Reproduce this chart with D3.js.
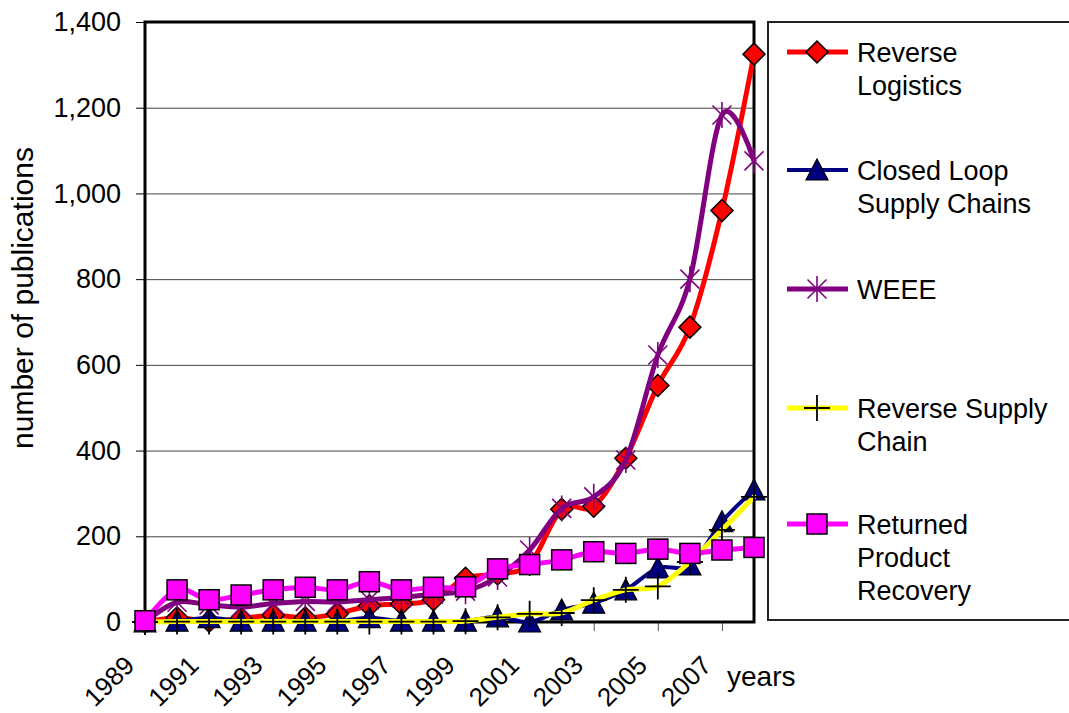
<!DOCTYPE html>
<html>
<head>
<meta charset="utf-8">
<script src="https://cdn.jsdelivr.net/npm/d3@7"></script>
<style>
  html, body { margin: 0; padding: 0; background: #fff; }
  svg { display: block; font-family: "Liberation Sans", Arial, sans-serif; }
</style>
</head>
<body>
<svg id="chart" width="1069" height="713"></svg>
<script>
// Publications per year, 1989-2008
const years = ["1989","1990","1991","1992","1993","1994","1995","1996","1997","1998",
               "1999","2000","2001","2002","2003","2004","2005","2006","2007","2008"];
const labelYears = ["1989","1991","1993","1995","1997","1999","2001","2003","2005","2007"];
const yTicks = [0, 200, 400, 600, 800, 1000, 1200, 1400];

const reverseLogistics   = [0, 10, 2, 8, 16, 10, 19, 38, 42, 52, 102, 112, 135, 263, 270, 382, 552, 688, 960, 1325];
const closedLoop         = [0, 2, 10, 2, 2, 2, 2, 10, 2, 2, 2, 12, 0, 28, 44, 75, 126, 133, 234, 308];
const weee               = [0, 46, 40, 35, 43, 48, 47, 52, 57, 65, 72, 105, 168, 265, 292, 378, 623, 800, 1183, 1076];
const reverseSupplyChain = [0, 1, 1, 1, 1, 1, 1, 1, 1, 1, 2, 11, 19, 21, 51, 75, 83, 140, 215, 292];
const returnedProduct    = [3, 75, 52, 63, 75, 81, 75, 94, 75, 81, 82, 124, 134, 145, 164, 160, 170, 160, 168, 174];

const seriesNames = [["Reverse", "Logistics"], ["Closed Loop", "Supply Chains"], ["WEEE"],
                     ["Reverse Supply", "Chain"], ["Returned", "Product", "Recovery"]];

const series = [
  { values: reverseLogistics,   line: "#ff0000", width: 5, marker: "diamond" },
  { values: closedLoop,         line: "#000080", width: 4, marker: "triangle" },
  { values: weee,               line: "#800080", width: 5, marker: "asterisk" },
  { values: reverseSupplyChain, line: "#ffff00", width: 5, marker: "plus" },
  { values: returnedProduct,    line: "#ff00ff", width: 5, marker: "square" }
];

const svg = d3.select("#chart");
const plot = { left: 145, right: 754, top: 22, bottom: 622 };

const x = d3.scalePoint().domain(years).range([plot.left, plot.right]);
const y = d3.scaleLinear().domain([0, 1400]).range([plot.bottom, plot.top]);

// horizontal gridlines
svg.append("g").selectAll("line").data(yTicks.filter(d => d > 0)).join("line")
  .attr("x1", plot.left).attr("x2", plot.right)
  .attr("y1", d => y(d) + 0.5).attr("y2", d => y(d) + 0.5)
  .attr("stroke", "#444").attr("stroke-width", 1);

// y axis
const yAxis = svg.append("g").attr("transform", `translate(${plot.left},0)`)
  .call(d3.axisLeft(y).tickValues(yTicks).tickFormat(d3.format(",")).tickSize(9).tickPadding(15));
yAxis.select(".domain").remove();
yAxis.selectAll(".tick line").attr("stroke", "#000").attr("stroke-width", 1);
yAxis.selectAll(".tick text").attr("font-size", 27).attr("fill", "#000")
  .attr("font-family", "Liberation Sans, Arial, sans-serif");

// x axis ticks
const xAxis = svg.append("g").attr("transform", `translate(0,${plot.bottom})`)
  .call(d3.axisBottom(x).tickValues(labelYears).tickSize(9).tickFormat(""));
xAxis.select(".domain").remove();
xAxis.selectAll(".tick line").attr("stroke", "#555").attr("stroke-width", 1);

// rotated year labels
svg.append("g").selectAll("text").data(labelYears).join("text")
  .attr("transform", d => `translate(${x(d) - 9},667) rotate(-45)`)
  .attr("text-anchor", "end")
  .attr("font-size", 26)
  .attr("fill", "#000")
  .text(d => d);

// plot frame
svg.append("rect")
  .attr("x", plot.left).attr("y", plot.top)
  .attr("width", plot.right - plot.left).attr("height", plot.bottom - plot.top)
  .attr("fill", "none").attr("stroke", "#000").attr("stroke-width", 3);

// axis titles
svg.append("text").attr("transform", "translate(33,298) rotate(-90)")
  .attr("text-anchor", "middle").attr("font-size", 30).attr("fill", "#000")
  .text("number of publications");
svg.append("text").attr("x", 727).attr("y", 686)
  .attr("font-size", 28).attr("fill", "#000").text("years");

// marker shapes
function drawMarker(g, type, cx, cy) {
  if (type === "diamond") {
    g.append("path").attr("d", `M${cx},${cy - 11}L${cx + 11},${cy}L${cx},${cy + 11}L${cx - 11},${cy}Z`)
      .attr("fill", "#ff0000").attr("stroke", "#000").attr("stroke-width", 1.5);
  } else if (type === "triangle") {
    g.append("path").attr("d", `M${cx},${cy - 11}L${cx + 11},${cy + 10}L${cx - 11},${cy + 10}Z`)
      .attr("fill", "#000080").attr("stroke", "#000").attr("stroke-width", 1.2);
  } else if (type === "square") {
    g.append("rect").attr("x", cx - 10).attr("y", cy - 10).attr("width", 20).attr("height", 20)
      .attr("fill", "#ff00ff").attr("stroke", "#000").attr("stroke-width", 1.5);
  } else if (type === "asterisk") {
    const r = 13, d = 9.5;
    g.append("path")
      .attr("d", `M${cx - d},${cy - d}L${cx + d},${cy + d}M${cx + d},${cy - d}L${cx - d},${cy + d}M${cx},${cy - r}L${cx},${cy + r}`)
      .attr("stroke", "#800080").attr("stroke-width", 1.6).attr("fill", "none");
  } else if (type === "plus") {
    const r = 13;
    g.append("path")
      .attr("d", `M${cx - r},${cy}L${cx + r},${cy}M${cx},${cy - r}L${cx},${cy + r}`)
      .attr("stroke", "#000").attr("stroke-width", 1.8).attr("fill", "none");
  }
}

// series lines and markers
const line = d3.line().x((d, i) => x(years[i])).y(d => y(d)).curve(d3.curveCardinal.tension(0));
series.forEach(s => {
  const g = svg.append("g");
  g.append("path").datum(s.values).attr("d", line)
    .attr("fill", "none").attr("stroke", s.line).attr("stroke-width", s.width)
    .attr("stroke-linejoin", "round").attr("stroke-linecap", "round");
  s.values.forEach((v, i) => drawMarker(g, s.marker, x(years[i]), y(v)));
});

// legend
const legend = svg.append("g");
legend.append("rect").attr("x", 768).attr("y", 22).attr("width", 320).attr("height", 598)
  .attr("fill", "#fff").attr("stroke", "#222").attr("stroke-width", 2);
const legendY = [52, 170, 289, 408, 524];
series.forEach((s, i) => {
  const ly = legendY[i];
  const g = legend.append("g");
  g.append("line").attr("x1", 787).attr("x2", 848).attr("y1", ly).attr("y2", ly)
    .attr("stroke", s.line).attr("stroke-width", s.width);
  drawMarker(g, s.marker, 817, ly);
  const t = g.append("text").attr("x", 857).attr("y", ly + 10).attr("font-size", 27).attr("fill", "#000");
  seriesNames[i].forEach((name, k) => {
    t.append("tspan").attr("x", 857).attr("dy", k === 0 ? 0 : 33).text(name);
  });
});
</script>
</body>
</html>
